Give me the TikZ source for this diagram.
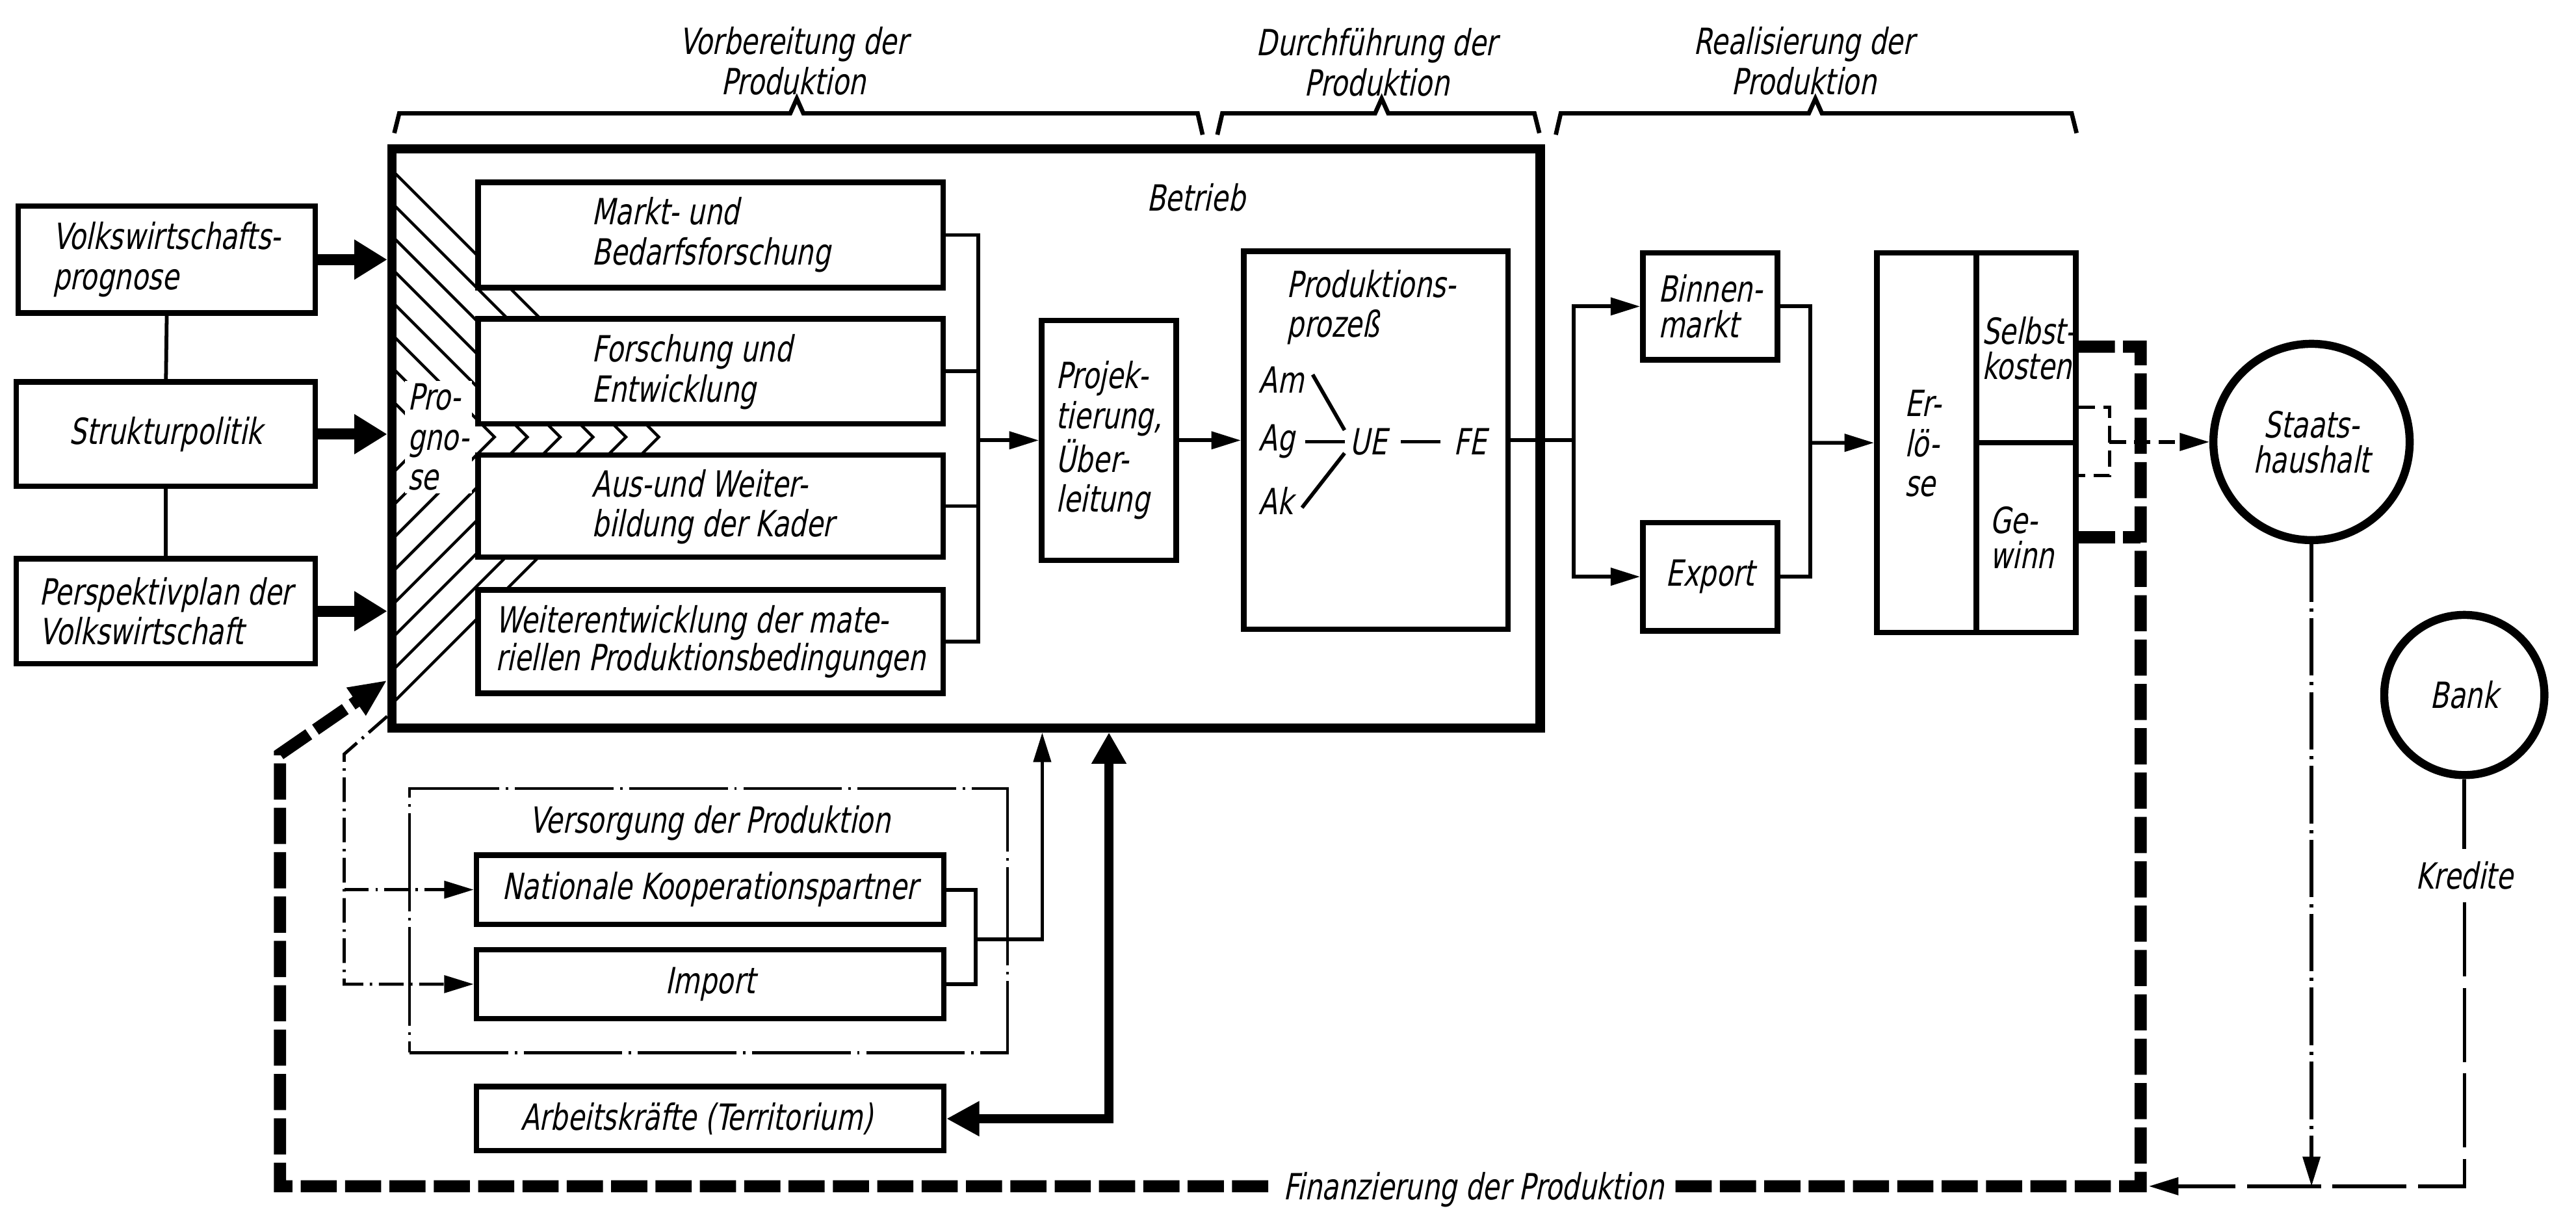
\documentclass[tikz,border=0pt]{standalone}
\usepackage{fontspec}
\setmainfont{DejaVu Sans}[FakeStretch=0.75,FakeSlant=0.2]
\usetikzlibrary{arrows.meta,fit}
\begin{document}
\begin{tikzpicture}[x=0.02cm,y=-0.02cm,
  every node/.style={font=\fontsize{12.5}{13.9}\selectfont},
  box/.style={draw,line width=1.9pt,fill=white,inner sep=0pt},
  lbl/.style={inner sep=0pt,align=left},
  tight/.style={font=\fontsize{12.5}{12.2}\selectfont},
  conn/.style={line width=1.3pt},
  hl/.style={line width=1pt},
  arr/.style={-{Triangle[length=0.36cm,width=0.21cm]}},
  bigarr/.style={line width=3.8pt,-{Triangle[length=0.4cm,width=0.46cm]}},
  fin/.style={line width=4.2pt,dash pattern=on 0.44cm off 0.1cm},
  finarr/.style={-{Triangle[length=0.46cm,width=0.38cm]}},
  tdash/.style={line width=1.2pt,dash pattern=on 0.2cm off 0.1cm},
  sdash/.style={line width=1.2pt,dash pattern=on 0.7cm off 0.08cm on 0.04cm off 0.08cm},
  bdash/.style={line width=1.2pt,dash pattern=on 0.9cm off 0.14cm},
  vdash/.style={line width=1pt,dash pattern=on 1.2cm off 0.08cm on 0.03cm off 0.08cm},
  sdd/.style={line width=1.1pt,dash pattern=on 0.3cm off 0.08cm on 0.03cm off 0.08cm},
  circ/.style={circle,draw,line width=2.8pt,inner sep=0pt,align=center},
  brace/.style={line width=1.5pt},
]
\useasboundingbox (0,0) rectangle (1568,738);

% ---------- top labels and braces
\node[lbl,align=center] (t1) at (483,37) {Vorbereitung der\\Produktion};
\node[lbl,align=center] (t2) at (838,38) {Durchführung der\\Produktion};
\node[lbl,align=center] (t3) at (1098,37) {Realisierung der\\Produktion};
\draw[brace] (240,81) -- (243,69) -- (481,69) -- (485,60) -- (489,69) -- (729,69) -- (732,82);
\draw[brace] (741,82) -- (744,69) -- (837,69) -- (841,60) -- (845,69) -- (934,69) -- (937,81);
\draw[brace] (947,82) -- (950,69) -- (1101,69) -- (1105,60) -- (1109,69) -- (1261,69) -- (1264,81);

% ---------- Betrieb
\node[draw,line width=3.2pt,inner sep=0pt,fit={(238.5,90.5) (937.5,443)}] (betrieb) {};
\node[lbl] (btl) at (728,120) {Betrieb};

% hatched Prognose arrow (nested chevrons)
\foreach \k in {0,...,7}
  \draw[hl] (239,104+20*\k) -- (401-20*\k,266) -- (239,428-20*\k);
\node[lbl,anchor=west,fill=white,inner sep=1pt] (prog) at (246,266) {Pro-\\gno-\\se};

% ---------- left boxes
\node[box,fit={(11,125.5) (192,190.5)}] (vw) {};
\node[lbl] (vwt) at (vw.center) {Volkswirtschafts-\\prognose};
\node[box,fit={(10,232.5) (192,296)}] (sp) {};
\node[lbl] (spt) at (sp.center) {Strukturpolitik};
\node[box,fit={(10,340) (192,404)}] (pv) {};
\node[lbl] (pvt) at (pv.center) {Perspektivplan der\\Volkswirtschaft};
\draw[conn] (vw.south) -- (sp.north);
\draw[conn] (sp.south) -- (pv.north);
\draw[bigarr] (vw.east) -- (vw.east -| betrieb.west);
\draw[bigarr] (sp.east) -- (sp.east -| betrieb.west);
\draw[bigarr] (pv.east) -- (pv.east -| betrieb.west);

% ---------- inner boxes
\node[box,fit={(291,111) (574,175)}] (mb) {};
\node[lbl,anchor=west] (mbt) at (360,143) {Markt- und\\Bedarfsforschung};
\node[box,fit={(291,194) (574,258)}] (fe) {};
\node[lbl,anchor=west] (fet) at (360,226.5) {Forschung und\\Entwicklung};
\node[box,fit={(291,277) (574,339)}] (aw) {};
\node[lbl,anchor=west] (awt) at (360,308.5) {Aus-und Weiter-\\bildung der Kader};
\node[box,fit={(291,359) (574,422)}] (wm) {};
\node[lbl,font=\fontsize{12.5}{12}\selectfont] (wmt) at (wm.center) {Weiterentwicklung der mate-\\riellen Produktionsbedingungen};

\coordinate (bx) at (595.5,268);
\draw[conn] (mb.east) -| (bx);
\draw[conn] (wm.east) -| (bx);
\draw[conn] (fe.east) -- (fe.east -| bx);
\draw[conn] (aw.east) -- (aw.east -| bx);

\node[box,fit={(634,195) (716,341)}] (pj) {};
\node[lbl] (pjt) at (pj.center) {Projek-\\tierung,\\Über-\\leitung};
\draw[conn,arr] (bx) -- (pj.west);

% ---------- Produktionsprozess
\node[box,fit={(757,153) (918,383)}] (pp) {};
\node[lbl,anchor=west] (ppt) at (783,187) {Produktions-\\prozeß};
\node[lbl,anchor=west] (am) at (766,231) {Am};
\node[lbl,anchor=west] (ag) at (766,268.8) {Ag};
\node[lbl,anchor=west] (ak) at (766,305) {Ak};
\node[lbl] (ue) at (833,268.8) {UE};
\node[lbl] (fe2) at (895,268.8) {FE};
\draw[conn] ([shift={(5,-3)}]am.east) -- ([shift={(-3,-7)}]ue.west);
\draw[conn] ([shift={(6,0)}]ag.east) -- ([shift={(-3,0)}]ue.west);
\draw[conn] ([shift={(5,4)}]ak.east) -- ([shift={(-3,7)}]ue.west);
\draw[conn] ([shift={(8,0)}]ue.east) -- ([shift={(-8,0)}]fe2.west);
\draw[conn,arr] (pj.east) -- (pp.west);

% ---------- Realisierung
\coordinate (s1) at (958,268);
\node[box,fit={(1000,154) (1082,219)}] (bm) {};
\node[lbl,tight] (bmt) at (bm.center) {Binnen-\\markt};
\node[box,fit={(1000,318) (1082,384)}] (ex) {};
\node[lbl] (ext) at (ex.center) {Export};
\draw[conn] (pp.east) -- (s1);
\draw[conn,arr] (s1) |- (bm.west);
\draw[conn,arr] (s1) |- (ex.west);
\coordinate (s2) at (1102,269.5);
\draw[conn] (bm.east) -| (s2) |- (ex.east);

\node[box,fit={(1142.4,154) (1263.6,385)}] (er) {};
\coordinate (dv) at (1203,0);
\draw[line width=1.9pt] (er.north -| dv) -- (er.south -| dv);
\draw[line width=1.9pt] (dv |- er.east) -- (er.east);
\draw[conn,arr] (s2) -- (er.west);
\node[lbl,anchor=west] (ert) at (1159,270) {Er-\\lö-\\se};
\node[lbl,anchor=west,tight] (skt) at (1206,212) {Selbst-\\kosten};
\node[lbl,anchor=west,tight] (gwt) at (1211,327) {Ge-\\winn};

% ---------- Staatshaushalt, Bank
\node[circ,minimum size=2.39cm,tight] (sh) at (1407,269) {Staats-\\haushalt};
\node[circ,minimum size=1.95cm] (bank) at (1500,423) {Bank};
\node[lbl,inner sep=0.15cm] (kr) at (1500,533) {Kredite};

\draw[tdash] (er.east |- 0,248) -- (1284,248) -- (1284,289.5) -- (er.east |- 0,289.5);
\coordinate (br) at (1284,269);
\draw[tdash,arr] (br) -- (sh.west);

% ---------- Finanzierung der Produktion
\coordinate (fr1) at (1303,211);
\coordinate (fr2) at (1303,722);
\coordinate (fl1) at (170.4,722);
\coordinate (fl2) at (170.4,459);
\draw[fin,finarr] (er.east |- fr1) -- (fr1) -- (fr2) -- (fl1) -- (fl2) -- (betrieb.west |- 0,414);
\draw[fin] (er.east |- 0,327) -- (1303,327);
\node[lbl,fill=white,inner sep=0.14cm] (fin) at (897,724) {Finanzierung der Produktion};

\coordinate (fj) at (1308,722);
\draw[sdash,arr] (sh.south) -- (sh.south |- fj);
\draw[conn] (bank.south) -- (kr.north);
\draw[bdash,arr] (kr.south) |- (fj);

% ---------- Versorgung der Produktion
\node[draw,vdash,inner sep=0pt,fit={(249.3,480) (613.2,640.7)}] (vs) {};
\node[lbl] (vst) at (432,501) {Versorgung der Produktion};
\node[box,fit={(290,520.4) (574.4,562.6)}] (nk) {};
\node[lbl] (nkt) at (nk.center) {Nationale Kooperationspartner};
\node[box,fit={(290,578) (574.4,620)}] (im) {};
\node[lbl] (imt) at (im.center) {Import};
\node[box,fit={(290,661.4) (574.4,700.4)}] (ak2) {};
\node[lbl] (ak2t) at ([xshift=-0.16cm]ak2.center) {Arbeitskräfte (Territorium)};

\coordinate (vb) at (593.8,571.8);
\draw[conn] (nk.east) -| (vb);
\draw[conn] (im.east) -| (vb);
\draw[conn,arr] (vb) -| (betrieb.south -| 634.4,0);
\draw[line width=3pt,{Triangle[length=0.4cm,width=0.4cm]}-{Triangle[length=0.38cm,width=0.4cm]}] (ak2.east) -| (betrieb.south -| 675,0);

\coordinate (dd) at (209.5,459);
\draw[sdd,arr] (betrieb.west |- 0,436) -- (dd) |- (im.west);
\draw[sdd,arr] (dd |- nk.west) -- (nk.west);
\end{tikzpicture}
\end{document}
